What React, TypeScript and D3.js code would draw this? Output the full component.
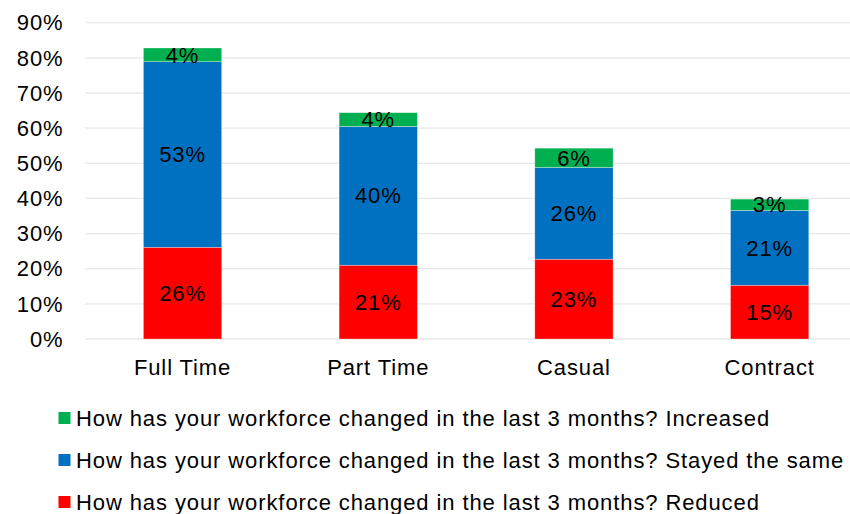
import React from "react";
import * as d3 from "d3";

const categories = ["Full Time", "Part Time", "Casual", "Contract"];
const seriesNames = [
  "How has your workforce changed in the last 3 months? Reduced",
  "How has your workforce changed in the last 3 months? Stayed the same",
  "How has your workforce changed in the last 3 months? Increased",
];
const reduced = [26.1, 21.0, 22.7, 15.3];
const stayed = [52.8, 39.5, 26.1, 21.3];
const increased = [3.9, 3.9, 5.5, 3.2];
const reducedLabels = ["26%", "21%", "23%", "15%"];
const stayedLabels = ["53%", "40%", "26%", "21%"];
const increasedLabels = ["4%", "4%", "6%", "3%"];
const yTicks = [0, 10, 20, 30, 40, 50, 60, 70, 80, 90];
const colors = ["#FF0000", "#0070C0", "#00B050"];

export default function App() {
  const W = 850;
  const H = 514;
  const font = "Liberation Sans, Arial, sans-serif";
  const fs = 22;
  const ls = 0.9;
  const x = d3.scaleBand<string>().domain(categories).range([84.7, 867.5]).paddingInner(0.6).paddingOuter(0.3);
  const y = d3.scaleLinear().domain([0, 90]).range([339, 22.7]);

  const table = categories.map((c, i) => ({
    cat: c,
    reduced: reduced[i],
    stayed: stayed[i],
    increased: increased[i],
  }));
  const stack = d3.stack<any>().keys(["reduced", "stayed", "increased"])(table);
  const labelSets = [reducedLabels, stayedLabels, increasedLabels];

  const legendOrder = [2, 1, 0];

  return (
    <svg width={W} height={H} style={{ position: "absolute", left: 0, top: 0 }} fontFamily={font} letterSpacing={ls}>
      <rect width={W} height={H} fill="#fff" />
      {yTicks.map((t) => (
        <g key={t}>
          <line x1={85} x2={W} y1={y(t)} y2={y(t)} stroke="#E8E8E8" strokeWidth={1.3} />
          <text x={63.5} y={y(t)} dy="0.35em" textAnchor="end" fontSize={fs} fill="#000">
            {t}%
          </text>
        </g>
      ))}
      {stack.map((s, si) => (
        <g key={si}>
          {s.map((d: any, i: number) => {
            const x0 = x(categories[i])!;
            const y0 = y(d[1]);
            const h = y(d[0]) - y(d[1]);
            return (
              <g key={i}>
                <rect x={x0} y={y0} width={x.bandwidth()} height={h} fill={colors[si]} stroke="#ffffff" strokeOpacity={0.5} strokeWidth={0.6} />
                <text
                  x={x0 + x.bandwidth() / 2}
                  y={y0 + h / 2}
                  dy="0.35em"
                  textAnchor="middle"
                  fontSize={fs}
                  fill="#000"
                >
                  {labelSets[si][i]}
                </text>
              </g>
            );
          })}
        </g>
      ))}
      {categories.map((c) => (
        <text key={c} x={x(c)! + x.bandwidth() / 2} y={367} dy="0.35em" textAnchor="middle" fontSize={fs} fill="#000">
          {c}
        </text>
      ))}
      {legendOrder.map((si, k) => (
        <g key={si} transform={`translate(0, ${418 + k * 42})`}>
          <rect x={58.5} y={-6} width={12} height={12} fill={colors[si]} />
          <text x={76} y={0} dy="0.35em" fontSize={fs} fill="#000">
            {seriesNames[si]}
          </text>
        </g>
      ))}
    </svg>
  );
}
